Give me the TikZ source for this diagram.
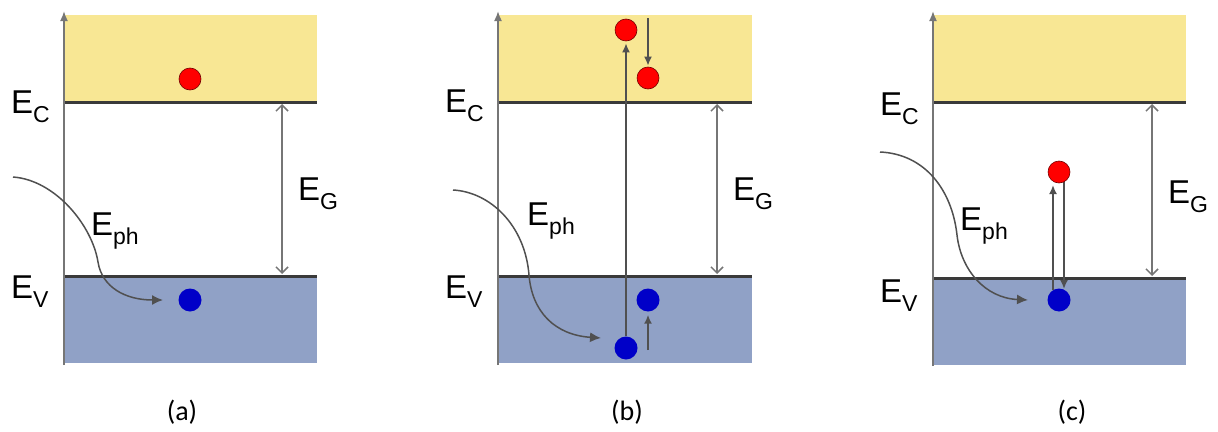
\documentclass[tikz,border=0pt]{standalone}
\usepackage{fontspec}
\setmainfont{Liberation Sans}
\newfontfamily\capfont{Carlito}
\usetikzlibrary{arrows.meta}
\definecolor{cband}{RGB}{248,231,148}
\definecolor{vband}{RGB}{144,161,198}
\definecolor{lev}{RGB}{58,58,58}
\definecolor{axg}{RGB}{118,118,118}
\definecolor{arg}{RGB}{80,80,80}
\definecolor{ered}{RGB}{255,0,0}
\definecolor{hblue}{RGB}{0,0,200}
\newcommand{\En}[1]{E\raisebox{-9pt}{\fontsize{23}{23}\selectfont #1}}
\begin{document}
\begin{tikzpicture}[x=1pt,y=-1pt,
  level/.style={draw=lev,line width=3pt},
  axisline/.style={draw=axg,line width=1.7pt,-{Latex[length=10pt,width=8pt]}},
  gaparrow/.style={draw=axg,line width=1.5pt,{Straight Barb[length=6pt,width=12pt]}-{Straight Barb[length=6pt,width=12pt]}},
  photon/.style={draw=arg,line width=1.5pt,-{Latex[length=11pt,width=10pt]}},
  trans/.style={draw=arg,line width=1.9pt,-{Latex[length=9pt,width=8pt]}},
  elec/.style={circle,fill=ered,draw=red!45!black,line width=0.6pt,minimum size=22pt,inner sep=0pt},
  hole/.style={circle,fill=hblue,draw=none,minimum size=23pt,inner sep=0pt},
  lbl/.style={font=\fontsize{33}{33}\selectfont,anchor=base west,inner sep=0pt},
  captext/.style={font=\capfont\fontsize{28}{28}\selectfont,inner sep=0pt}]
\useasboundingbox (0,0) rectangle (1218,431);
% ---------- panel (a)
\fill[cband] (64,15) rectangle (317,102);
\fill[vband] (64,276) rectangle (317,363);
\draw[level] (64,102) -- (317,102);
\draw[level] (64,276) -- (317,276);
\coordinate (a0) at (64,365);
\coordinate (a1) at (64,11);
\draw[axisline] (a0) -- (a1);
\coordinate (ag1) at (282,104);
\coordinate (ag2) at (282,274);
\draw[gaparrow] (ag1) -- (ag2);
\node[elec] (ea) at (190,79) {};
\node[hole] (ha) at (190,300) {};
\coordinate (aps) at (13,177);
\coordinate (ape) at (163,300);
\draw[photon] (aps) .. controls (55,180) and (92,225) .. (98,262) .. controls (102,287) and (125,300) .. (ape);
\node[lbl] (aEC) at (11,113) {\En{C}};
\node[lbl] (aEV) at (11,298) {\En{V}};
\node[lbl] (aEph) at (91,235) {\En{ph}};
\node[lbl] (aEG) at (298,200) {\En{G}};
\node[captext] (capa) at (182,412) {(a)};
% ---------- panel (b)
\fill[cband] (498,15) rectangle (752,102);
\fill[vband] (498,276) rectangle (752,363);
\draw[level] (498,102) -- (752,102);
\draw[level] (498,276) -- (752,276);
\coordinate (b0) at (498,365);
\coordinate (b1) at (498,11);
\draw[axisline] (b0) -- (b1);
\coordinate (bg1) at (717,104);
\coordinate (bg2) at (717,274);
\draw[gaparrow] (bg1) -- (bg2);
\node[elec] (eb1) at (626,30) {};
\node[elec] (eb2) at (648,78) {};
\node[hole] (hb1) at (626,348) {};
\node[hole] (hb2) at (648,300) {};
\draw[trans] (hb1.north) -- ([yshift=-2pt]eb1.south);
\coordinate (bd0) at (648,18);
\draw[trans] (bd0) -- ([yshift=1pt]eb2.north);
\coordinate (bu0) at (648,350);
\draw[trans] (bu0) -- ([yshift=-3pt]hb2.south);
\coordinate (bps) at (453,190);
\coordinate (bpe) at (601,338);
\draw[photon] (bps) .. controls (490,192) and (525,225) .. (529,275) .. controls (532,312) and (555,335) .. (bpe);
\node[lbl] (bEC) at (445,112) {\En{C}};
\node[lbl] (bEV) at (445,298) {\En{V}};
\node[lbl] (bEph) at (527,225) {\En{ph}};
\node[lbl] (bEG) at (733,200) {\En{G}};
\node[captext] (capb) at (627,412) {(b)};
% ---------- panel (c)
\fill[cband] (933,15) rectangle (1186,102);
\fill[vband] (933,278) rectangle (1186,365);
\draw[level] (933,102) -- (1186,102);
\draw[level] (933,278) -- (1186,278);
\coordinate (c0) at (933,366);
\coordinate (c1) at (933,11);
\draw[axisline] (c0) -- (c1);
\coordinate (cg1) at (1152,104);
\coordinate (cg2) at (1152,276);
\draw[gaparrow] (cg1) -- (cg2);
\node[hole] (hc) at (1059,300) {};
\coordinate (cu0) at (1053,290);
\coordinate (cu1) at (1053,185);
\draw[trans] (cu0) -- (cu1);
\coordinate (cd0) at (1064,180);
\coordinate (cd1) at (1064,289);
\draw[trans] (cd0) -- (cd1);
\node[elec] (ec) at (1059,172) {};
\coordinate (cps) at (880,152);
\coordinate (cpe) at (1028,300);
\draw[photon] (cps) .. controls (925,154) and (952,190) .. (957,235) .. controls (961,270) and (985,298) .. (cpe);
\node[lbl] (cEC) at (880,115) {\En{C}};
\node[lbl] (cEV) at (880,302) {\En{V}};
\node[lbl] (cEph) at (960,230) {\En{ph}};
\node[lbl] (cEG) at (1168,203) {\En{G}};
\node[captext] (capc) at (1072,412) {(c)};
\end{tikzpicture}
\end{document}
